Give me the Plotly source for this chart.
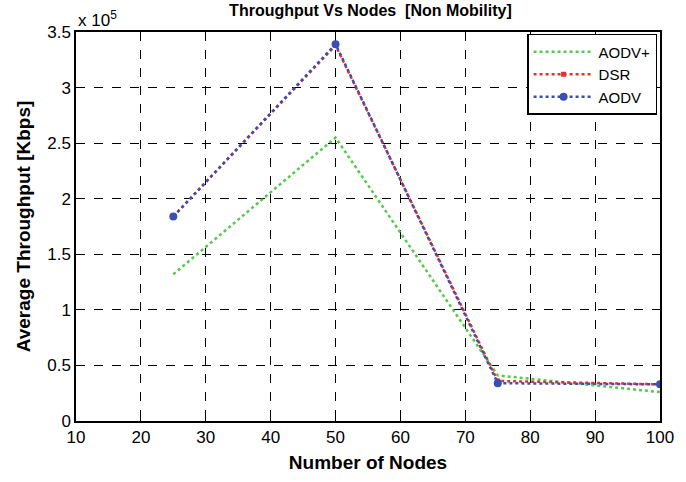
import plotly.graph_objects as go

nodes = [25, 50, 75, 100]
aodv_plus = [132000, 255000, 41000, 26000]
dsr = [184000, 338000, 36000, 33000]
aodv = [184000, 339000, 34000, 33000]

x_ticks = [10, 20, 30, 40, 50, 60, 70, 80, 90, 100]
y_tick_vals = [0, 50000, 100000, 150000, 200000, 250000, 300000, 350000]
y_tick_text = ["0", "0.5", "1", "1.5", "2", "2.5", "3", "3.5"]

FONT = "Liberation Sans, Arial"

fig = go.Figure()
fig.add_trace(go.Scatter(x=nodes, y=aodv_plus, name="AODV+", mode="lines",
                         line=dict(color="#55c94a", width=2.5, dash="dot")))
fig.add_trace(go.Scatter(x=nodes, y=dsr, name="DSR", mode="lines+markers",
                         line=dict(color="#e8302a", width=2.5, dash="dot"),
                         marker=dict(symbol="square", size=5, color="#e8302a")))
fig.add_trace(go.Scatter(x=nodes, y=aodv, name="AODV", mode="lines+markers",
                         line=dict(color="#3a4fb0", width=2.5, dash="dot"),
                         marker=dict(symbol="circle", size=8, color="#3a4fb0")))

axis_common = dict(showline=True, linecolor="black", linewidth=1.5, mirror=True,
                   ticks="inside", ticklen=5, tickcolor="black",
                   showgrid=True, gridcolor="black", griddash="dash", gridwidth=1,
                   zeroline=False,
                   tickfont=dict(family=FONT, size=17, color="black"))

fig.update_layout(
    width=686, height=482,
    margin=dict(l=76, r=21, t=32, b=60),
    plot_bgcolor="white", paper_bgcolor="white",
    title=dict(text="<b>Throughput Vs Nodes  [Non Mobility]</b>", x=0.54, xanchor="center",
               y=1, yanchor="top", pad=dict(t=5),
               font=dict(family=FONT, size=16, color="black")),
    xaxis=dict(range=[10, 100], tickvals=x_ticks,
               title=dict(text="<b>Number of Nodes</b>", standoff=10,
                          font=dict(family=FONT, size=19, color="black")),
               **axis_common),
    yaxis=dict(range=[0, 350000], tickvals=y_tick_vals, ticktext=y_tick_text,
               title=dict(text="<b>Average Throughput [Kbps]</b>", standoff=12,
                          font=dict(family=FONT, size=19, color="black")),
               **axis_common),
    legend=dict(x=0.995, y=0.995, xanchor="right", yanchor="top",
                bgcolor="white", bordercolor="black", borderwidth=1.5,
                font=dict(family=FONT, size=15, color="black"),
                tracegroupgap=0, itemwidth=60),
    showlegend=True,
)

fig.add_annotation(text="x 10<sup>5</sup>", xref="paper", yref="paper", x=0.0, y=1.0,
                   xanchor="left", yanchor="bottom", showarrow=False,
                   font=dict(family=FONT, size=17, color="black"))

fig.write_html("out.html")
